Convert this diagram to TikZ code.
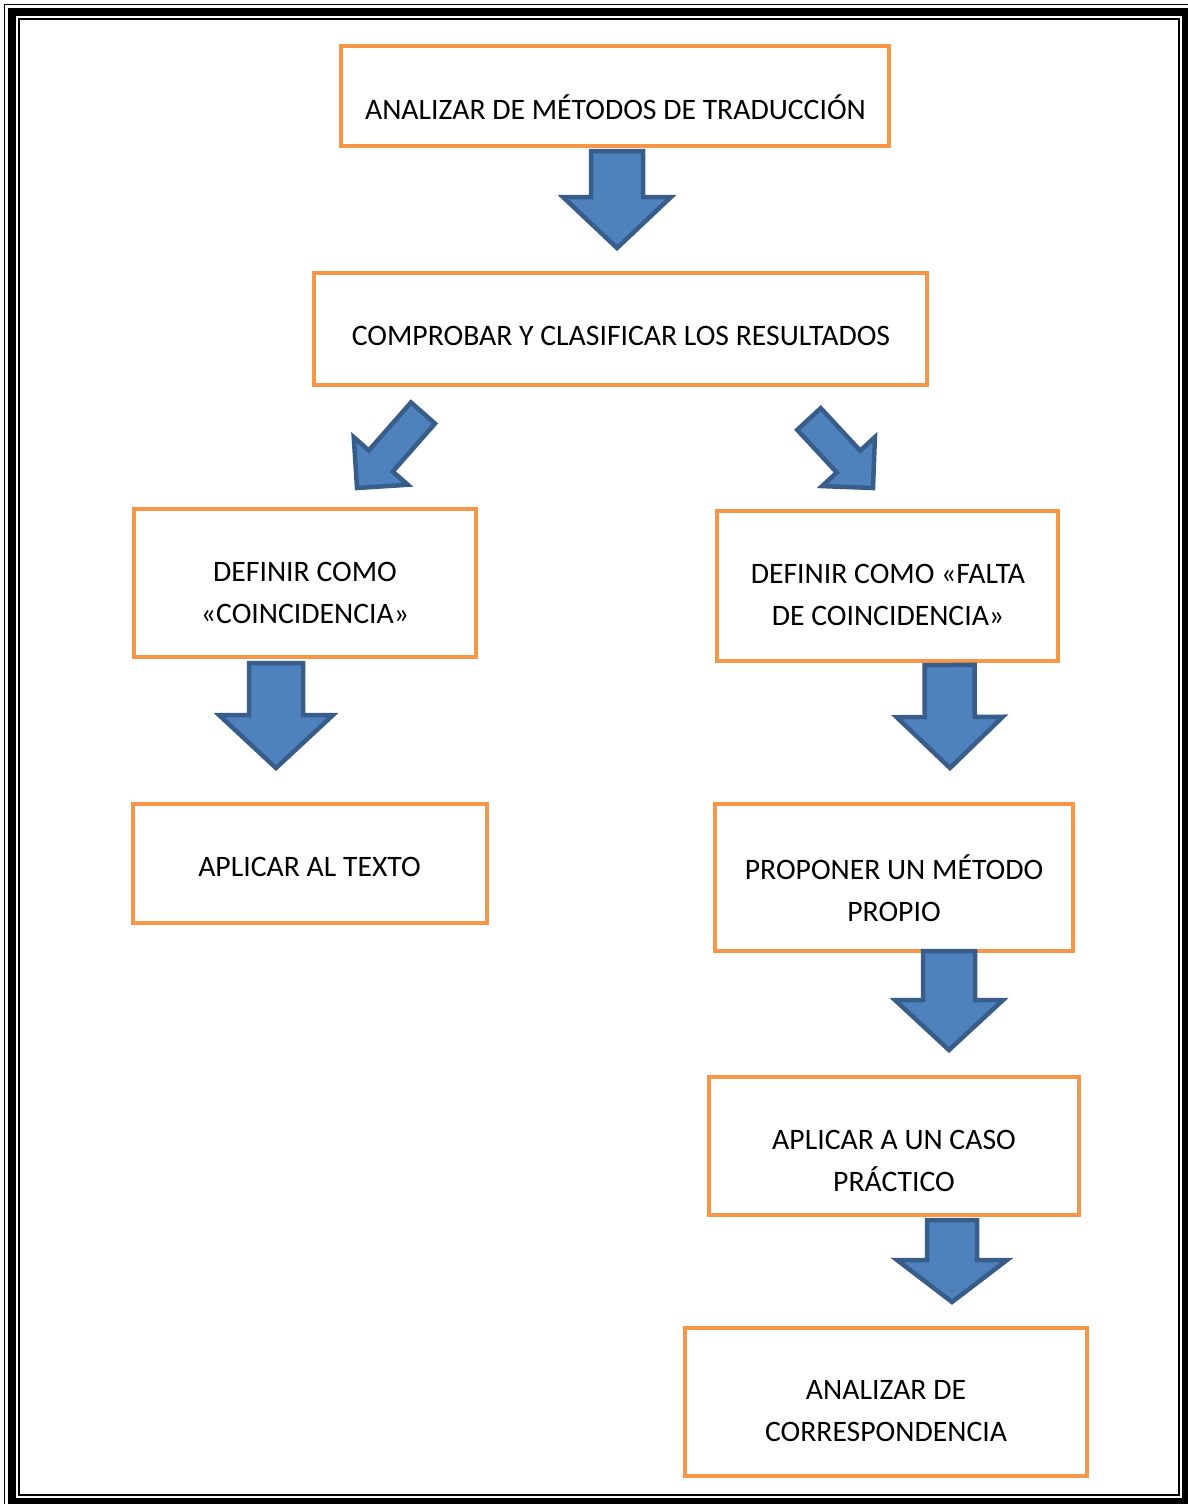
\documentclass[tikz,border=0pt]{standalone}
\usepackage{fontspec}
\setmainfont{Carlito}
\usetikzlibrary{calc}

\definecolor{boxorange}{HTML}{F79646}
\definecolor{arrowblue}{HTML}{4F81BD}
\definecolor{arrowedge}{HTML}{385D8A}

\tikzset{
    stepbox/.style={draw=boxorange, line width=4pt, rectangle, inner sep=0pt},
    steptext/.style={align=center, inner sep=0pt, font=\fontsize{29.7}{42}\selectfont,
        execute at begin node=\strut, execute at end node=\strut},
    arrowbody/.style={fill=arrowblue, draw=arrowedge, line width=4.5pt, line join=miter},
}

% block arrow: tail, tip, shaft half width, head half width, head length
\newcommand{\blockarrow}[5]{%
    \coordinate (neck) at ($(#2)!#5!(#1)$);
    \draw[arrowbody] ($(#1)!#3!90:(#2)$) -- ($(neck)!#3!90:(#2)$) -- ($(neck)!#4!90:(#2)$)
        -- (#2) -- ($(neck)!#4!-90:(#2)$) -- ($(neck)!#3!-90:(#2)$) -- ($(#1)!#3!-90:(#2)$) -- cycle;
}

\begin{document}
\begin{tikzpicture}[x=1pt, y=-1pt]
    \useasboundingbox (0,0) rectangle (1187,1504);
    % page frame
    \draw[line width=1.5pt] (4.5,4.5) rectangle (1193,1509);
    \draw[line width=8pt] (12,12) rectangle (1186,1502);
    \draw[line width=2pt] (19,19) rectangle (1179,1495);

    % boxes
    \node[stepbox, minimum width=548pt, minimum height=100pt] (b1) at (615,96) {};
    \node[stepbox, minimum width=613pt, minimum height=112pt] (b2) at (620.5,329) {};
    \node[stepbox, minimum width=342pt, minimum height=148pt] (b3) at (305,583) {};
    \node[stepbox, minimum width=341pt, minimum height=150pt] (b4) at (887.5,586) {};
    \node[stepbox, minimum width=354pt, minimum height=119pt] (b5) at (310,863.5) {};
    \node[stepbox, minimum width=358pt, minimum height=147pt] (b6) at (894,877.5) {};
    \node[stepbox, minimum width=370pt, minimum height=138pt] (b7) at (894,1146) {};
    \node[stepbox, minimum width=402pt, minimum height=148pt] (b8) at (886,1402) {};

    % texts
    \node[steptext] (t1) at (615.5,111.5) {ANALIZAR DE MÉTODOS DE TRADUCCIÓN};
    \node[steptext] (t2) at (621,337) {COMPROBAR Y CLASIFICAR LOS RESULTADOS};
    \node[steptext] (t3) at (305,599) {DEFINIR COMO\\«COINCIDENCIA»};
    \node[steptext] (t4) at (888,601.5) {DEFINIR COMO «FALTA\\DE COINCIDENCIA»};
    \node[steptext] (t5) at (309.5,868) {APLICAR AL TEXTO};
    \node[steptext] (t6) at (894,894) {PROPONER UN MÉTODO\\PROPIO};
    \node[steptext] (t7) at (894,1167.5) {APLICAR A UN CASO\\PRÁCTICO};
    \node[steptext] (t8) at (886,1417.5) {ANALIZAR DE\\CORRESPONDENCIA};

    % arrow ends
    \coordinate (a1tail) at ([xshift=2pt,yshift=-3pt]b1.south);
    \coordinate (a1tip) at (617,248);
    \coordinate (a2tail) at (423,413);
    \coordinate (a2tip) at (357,488);
    \coordinate (a3tail) at (809,419);
    \coordinate (a3tip) at (873,488);
    \coordinate (a4tail) at ([xshift=-29pt,yshift=-4pt]b3.south);
    \coordinate (a4tip) at (276,768);
    \coordinate (a5tail) at ([xshift=62pt,yshift=-2pt]b4.south);
    \coordinate (a5tip) at (950,768);
    \coordinate (a6tail) at ([xshift=55pt,yshift=2pt]b6.south);
    \coordinate (a6tip) at (949,1050);
    \coordinate (a7tail) at ([xshift=58pt,yshift=-3pt]b7.south);
    \coordinate (a7tip) at (952,1302);

    % arrows
    \blockarrow{a1tail}{a1tip}{26pt}{54pt}{51pt}
    \blockarrow{a2tail}{a2tip}{16pt}{36pt}{36pt}
    \blockarrow{a3tail}{a3tip}{16pt}{36pt}{36pt}
    \blockarrow{a4tail}{a4tip}{27pt}{57pt}{53pt}
    \blockarrow{a5tail}{a5tip}{25pt}{53pt}{51pt}
    \blockarrow{a6tail}{a6tip}{26pt}{54pt}{50pt}
    \blockarrow{a7tail}{a7tip}{25pt}{55pt}{42pt}
\end{tikzpicture}
\end{document}
